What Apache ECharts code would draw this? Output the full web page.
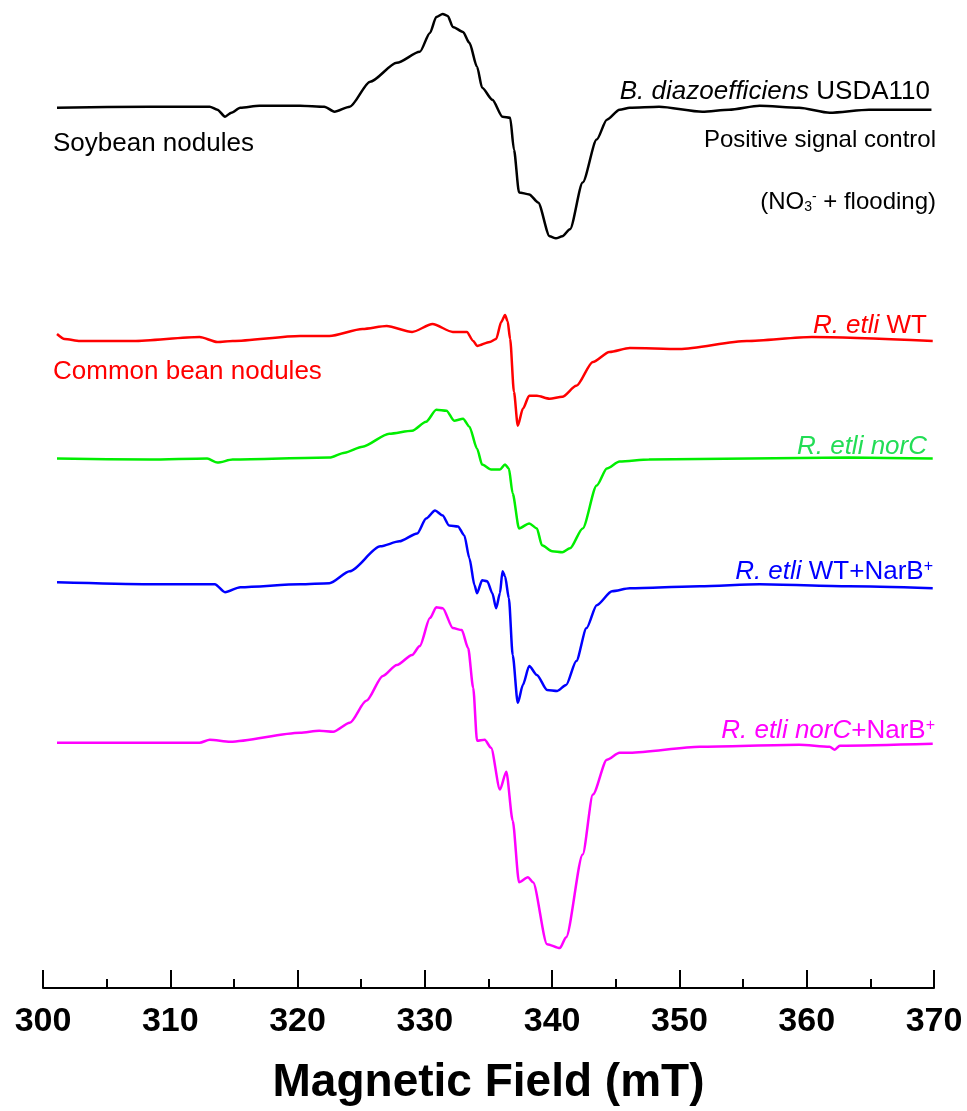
<!DOCTYPE html>
<html>
<head>
<meta charset="utf-8">
<script src="https://cdn.jsdelivr.net/npm/echarts@6/dist/echarts.min.js"></script>
<style>
html,body{margin:0;padding:0;background:#fff;}
#chart{width:967px;height:1111px;}
</style>
</head>
<body>
<div id="chart"></div>
<script>
// ---- Data (magnetic field in mT, derivative EPR signal in arbitrary units) ----
const xTicks = [300, 310, 320, 330, 340, 350, 360, 370];

const fieldSoy = [301.1,308.4,313.1,313.7,314.3,314.8,315.5,317.0,320.2,322.1,322.9,324.1,325.7,327.8,329.6,330.4,330.9,331.4,331.8,332.2,333.0,333.5,334.1,334.5,335.3,336.1,336.7,337.0,337.4,338.2,338.9,339.8,340.3,340.8,341.4,342.4,343.5,344.3,345.3,346.1,348.4,351.8,353.9,356.3,359.4,361.8,364.9,369.8];
const signalSoy = [2,3,3,0,-7,-3,2,4,4,3,-2,3,28,47,58,77,93,96,94,83,78,67,43,22,10,-7,-8,-40,-83,-85,-93,-127,-129,-127,-120,-73,-30,-10,0,2,3,-2,0,4,2,-3,0,0];

const fieldWT = [301.1,301.7,302.9,307.1,312.3,313.7,314.9,320.2,322.5,325.1,327.0,329.0,330.6,332.2,333.3,333.8,334.1,335.1,335.6,336.0,336.3,336.5,336.7,337.0,337.3,337.7,338.2,338.8,339.8,340.8,341.9,343.2,344.5,346.1,350.0,355.3,360.4,369.9];
const signalWT = [5,0,-2,-2,2,-3,-2,3,3,10,13,7,15,7,7,-2,-7,-3,0,17,24,18,0,-53,-87,-70,-57,-57,-60,-58,-47,-23,-13,-9,-10,-2,2,-2];

const fieldNorC = [301.1,308.4,312.9,313.7,314.9,322.5,323.7,325.1,327.2,329.0,330.1,330.9,331.7,332.3,333.0,333.5,334.1,334.5,335.2,335.9,336.3,336.6,336.9,337.4,338.2,338.8,339.2,340.0,340.8,341.4,342.4,343.5,344.3,345.3,347.6,355.5,363.3,369.9];
const signalNorC = [0,-1,0,-4,-1,1,6,12,25,28,37,49,48,38,40,32,10,-6,-11,-11,-6,-10,-35,-70,-65,-70,-87,-93,-94,-90,-70,-27,-10,-3,-1,0,1,0];

const fieldWTNarB = [301.1,308.4,313.5,314.3,315.5,320.2,322.5,324.1,326.5,328.0,329.4,330.1,330.8,331.4,331.9,332.6,333.1,333.5,333.9,334.1,334.5,334.9,335.3,335.6,335.9,336.1,336.3,336.6,336.9,337.3,337.7,338.2,338.8,339.6,340.4,341.1,341.9,342.7,343.5,344.7,346.1,351.6,356.3,363.3,369.9];
const signalWTNarB = [3,1,1,-7,-2,1,2,14,39,44,52,67,75,70,60,59,50,27,0,-8,5,4,-8,-23,-8,14,9,-13,-70,-118,-100,-81,-90,-105,-106,-100,-76,-43,-20,-6,-3,-1,1,-1,-3];

const fieldNorCNarB = [301.1,308.4,312.3,313.1,314.7,320.2,321.7,322.8,324.1,325.4,326.7,327.8,329.0,329.6,330.4,330.9,331.4,332.2,332.9,333.4,333.8,334.1,334.7,335.2,335.9,336.4,336.9,337.4,338.1,338.5,339.6,340.6,341.1,342.4,343.2,344.3,345.3,346.1,351.6,359.4,361.8,362.2,362.6,369.9];
const signalNorCNarB = [0,0,0,3,1,10,12,11,20,42,67,78,88,97,125,136,135,115,113,95,55,2,3,-5,-47,-29,-78,-140,-135,-140,-202,-206,-195,-112,-52,-17,-10,-10,-4,-2,-4,-7,-3,-1];

// vertical stacking offsets of the spectra (a.u.)
const seriesNames = ['Soybean USDA110', 'R. etli WT', 'R. etli norC', 'R. etli WT+NarB+', 'R. etli norC+NarB+'];
const seriesOffsets = [881, 651, 531, 404, 246];
const seriesColors = ['#000000', '#ff0000', '#00ee00', '#0000ff', '#ff00ff'];

// ---- Chart ----
const fields = [fieldSoy, fieldWT, fieldNorC, fieldWTNarB, fieldNorCNarB];
const signals = [signalSoy, signalWT, signalNorC, signalWTNarB, signalNorCNarB];

const FONT = '"Liberation Sans", Arial, Helvetica, sans-serif';

const series = seriesNames.map((name, k) => ({
  name: name,
  type: 'line',
  showSymbol: false,
  smooth: 0.25,
  smoothMonotone: 'x',
  silent: true,
  lineStyle: { color: seriesColors[k], width: 2.5 },
  data: fields[k].map((f, i) => [f, seriesOffsets[k] + signals[k][i]])
}));

function txt(text, x, y, align, color, size, rich) {
  return {
    type: 'text', x: x, y: y, silent: true,
    style: {
      text: text, align: align, verticalAlign: 'middle',
      fill: color, fontSize: size, fontFamily: FONT,
      rich: rich
    }
  };
}
function richFor(color, size) {
  return {
    i: { fontStyle: 'italic', fontSize: size, fontFamily: FONT, fill: color, color: color },
    sup: { fontSize: Math.round(size * 0.6), fontFamily: FONT, verticalAlign: 'top', fill: color, color: color },
    sub: { fontSize: Math.round(size * 0.6), fontFamily: FONT, verticalAlign: 'bottom', fill: color, color: color }
  };
}

const chart = echarts.init(document.getElementById('chart'), null, { renderer: 'canvas' });
chart.setOption({
  backgroundColor: '#ffffff',
  animation: false,
  grid: { left: 43, right: 33, top: 1, bottom: 120 },
  xAxis: {
    type: 'value',
    min: xTicks[0],
    max: xTicks[xTicks.length - 1],
    interval: 10,
    name: 'Magnetic Field (mT)',
    nameLocation: 'middle',
    nameGap: 72,
    nameTextStyle: { fontSize: 46, fontWeight: 'bold', color: '#000', fontFamily: FONT },
    axisLine: { lineStyle: { color: '#000', width: 2 } },
    axisTick: { inside: true, length: 18, lineStyle: { color: '#000', width: 2 } },
    minorTick: { show: true, splitNumber: 2, length: 9, lineStyle: { color: '#000', width: 2 } },
    axisLabel: { fontSize: 34, fontWeight: 'bold', color: '#000', fontFamily: FONT, margin: 17 },
    splitLine: { show: false }
  },
  yAxis: { type: 'value', min: 0, max: 990, show: false },
  series: series,
  graphic: [
    txt('{i|B. diazoefficiens} USDA110', 930, 92, 'right', '#000', 26, richFor('#000', 26)),
    txt('Positive signal control', 936, 140, 'right', '#000', 24),
    txt('(NO{sub|3}{sup|-} + flooding)', 936, 202, 'right', '#000', 24, richFor('#000', 24)),
    txt('Soybean nodules', 53, 144, 'left', '#000', 26),
    txt('Common bean nodules', 53, 372, 'left', '#ff0000', 26),
    txt('{i|R. etli} WT', 927, 326, 'right', '#ff0000', 26, richFor('#ff0000', 26)),
    txt('{i|R. etli norC}', 927, 447, 'right', '#22dd55', 26, richFor('#22dd55', 26)),
    txt('{i|R. etli} WT+NarB{sup|+}', 933, 572, 'right', '#0000ff', 26, richFor('#0000ff', 26)),
    txt('{i|R. etli norC}+NarB{sup|+}', 935, 731, 'right', '#ff00ff', 26, richFor('#ff00ff', 26))
  ]
});
</script>
</body>
</html>
